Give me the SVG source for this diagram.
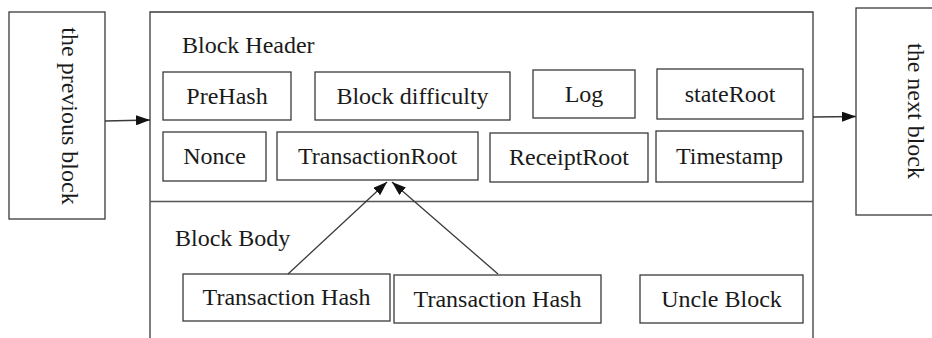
<svg xmlns="http://www.w3.org/2000/svg" width="932" height="338" viewBox="0 0 932 338">
<style>
.box{fill:#fff;stroke:#3a3a3a;stroke-width:1.3}
.frame{fill:none;stroke:#3a3a3a;stroke-width:1.3}
.t{font-family:"Liberation Serif","Times New Roman",serif;font-size:24px;fill:#1a1a1a}
.c{text-anchor:middle}
.line{fill:none;stroke:#3a3a3a;stroke-width:1.3}
</style>
<defs>
<marker id="ah" viewBox="0 0 14 10" refX="14" refY="5" markerWidth="14" markerHeight="10" markerUnits="userSpaceOnUse" orient="auto">
<path d="M0,0 L14,5 L0,10 Z" fill="#111"/>
</marker>
</defs>
<rect width="932" height="338" fill="#fff"/>
<g id="prev-block">
<rect class="box" x="9" y="12" width="96" height="207"/>
<text class="t c" transform="translate(62,116) rotate(90)">the previous block</text>
</g>
<g id="next-block">
<rect class="box" x="856" y="8" width="90" height="207"/>
<text class="t c" transform="translate(908,111) rotate(90)">the next block</text>
</g>
<g id="block">
<path class="frame" d="M150,345 L150,12 L813,12 L813,345"/>
<line x1="150" y1="201.5" x2="813" y2="201.5" stroke="#555" stroke-width="1.3"/>
<text class="t" x="182" y="53">Block Header</text>
<text class="t" x="175" y="246">Block Body</text>
</g>
<g id="prehash"><rect class="box" x="163" y="72" width="128" height="48"/><text class="t c" x="227" y="104">PreHash</text></g>
<g id="difficulty"><rect class="box" x="315" y="72" width="195" height="48"/><text class="t c" x="412.5" y="104">Block difficulty</text></g>
<g id="log"><rect class="box" x="533" y="70" width="102" height="48"/><text class="t c" x="584" y="102">Log</text></g>
<g id="stateroot"><rect class="box" x="657" y="69" width="146" height="50"/><text class="t c" x="730" y="102">stateRoot</text></g>
<g id="nonce"><rect class="box" x="163" y="132" width="103" height="49"/><text class="t c" x="214.5" y="164">Nonce</text></g>
<g id="txroot"><rect class="box" x="277" y="132" width="201" height="48"/><text class="t c" x="377.5" y="164">TransactionRoot</text></g>
<g id="receiptroot"><rect class="box" x="490" y="133" width="158" height="49"/><text class="t c" x="569" y="165">ReceiptRoot</text></g>
<g id="timestamp"><rect class="box" x="656" y="131" width="147" height="51"/><text class="t c" x="729.5" y="164">Timestamp</text></g>
<g id="txhash1"><rect class="box" x="183" y="274" width="207" height="47"/><text class="t c" x="286.5" y="305">Transaction Hash</text></g>
<g id="txhash2"><rect class="box" x="394" y="275" width="207" height="48"/><text class="t c" x="497.5" y="307">Transaction Hash</text></g>
<g id="uncle"><rect class="box" x="640" y="275" width="163" height="48"/><text class="t c" x="721.5" y="307">Uncle Block</text></g>
<g id="connectors">
<line class="line" x1="105" y1="121" x2="150" y2="120" marker-end="url(#ah)"/>
<line class="line" x1="813" y1="117" x2="856" y2="116.5" marker-end="url(#ah)"/>
<line class="line" x1="288" y1="274" x2="387" y2="182" marker-end="url(#ah)"/>
<line class="line" x1="498" y1="274" x2="392" y2="182" marker-end="url(#ah)"/>
</g>
</svg>
